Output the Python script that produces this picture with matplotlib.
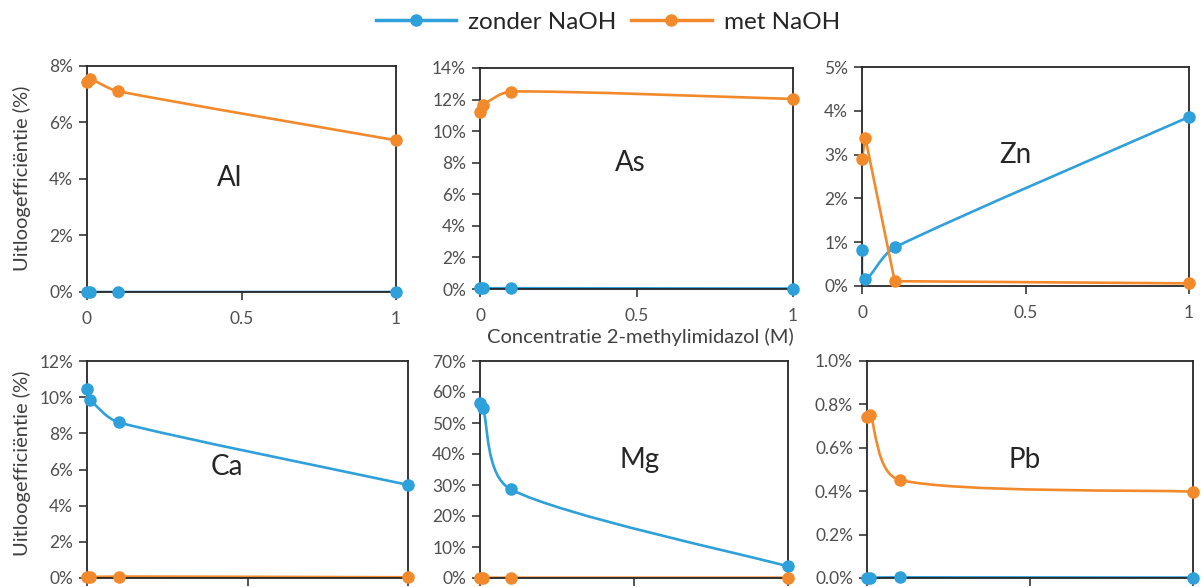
import numpy as np
import matplotlib
matplotlib.use("Agg")
import matplotlib.pyplot as plt
from matplotlib.path import Path
from matplotlib.patches import PathPatch
from matplotlib.lines import Line2D
from matplotlib.ticker import FuncFormatter, MultipleLocator

plt.rcParams["font.family"] = ["Lato", "DejaVu Sans"]

# Concentration of 2-methylimidazole (M)
conc = [0, 0.01, 0.1, 1]

# Leaching efficiency (%) per element, without / with NaOH
al_zonder = [0.0, 0.0, 0.0, 0.0]
al_met = [7.43, 7.55, 7.11, 5.37]
as_zonder = [0.05, 0.05, 0.05, 0.03]
as_met = [11.23, 11.66, 12.51, 12.04]
zn_zonder = [0.82, 0.15, 0.88, 3.86]
zn_met = [2.91, 3.39, 0.11, 0.06]
ca_zonder = [10.44, 9.87, 8.60, 5.15]
ca_met = [0.05, 0.05, 0.08, 0.04]
mg_zonder = [56.5, 54.7, 28.6, 3.75]
mg_met = [0.1, 0.1, 0.1, 0.1]
pb_zonder = [0.002, 0.002, 0.003, 0.002]
pb_met = [0.743, 0.753, 0.452, 0.398]

elements = ["Al", "As", "Zn", "Ca", "Mg", "Pb"]
y_max = [8, 14, 5, 12, 70, 1.0]
y_step = [2, 2, 1, 2, 10, 0.2]
y_decimals = [0, 0, 0, 0, 0, 1]
series_zonder = [al_zonder, as_zonder, zn_zonder, ca_zonder, mg_zonder, pb_zonder]
series_met = [al_met, as_met, zn_met, ca_met, mg_met, pb_met]
smooth_met = [True, True, False, True, True, True]

legend_labels = ["zonder NaOH", "met NaOH"]
x_label = "Concentratie 2-methylimidazol (M)"
y_label = "Uitloogefficiëntie (%)"

BLUE = "#2EA0DA"
ORANGE = "#F28A2C"
SPINE = "#262626"
TICKTXT = "#4F4F4F"

W, H = 1201, 587
fig = plt.figure(figsize=(W / 100, H / 100), dpi=100)


def box(left, right, top, bottom):
    return [left / W, 1 - bottom / H, (right - left) / W, (bottom - top) / H]


axes_boxes = [
    box(87, 396, 66, 292),
    box(480, 793, 68, 289),
    box(862, 1189, 67, 286),
    box(87, 408, 361, 578),
    box(480, 788, 361, 578),
    box(867, 1193, 361, 578),
]
label_pos = [(230, 178), (630, 163), (1015, 155), (227, 467), (640, 460), (1025, 460)]


def smooth_path(ax, xs, ys):
    """Bezier curve through the points, built in display space with
    tangent handles limited to a third of each segment."""
    pts = ax.transData.transform(np.column_stack([xs, ys]))
    n = len(pts)
    verts = [pts[0]]
    codes = [Path.MOVETO]
    for i in range(n - 1):
        p0 = pts[max(i - 1, 0)]
        p1 = pts[i]
        p2 = pts[i + 1]
        p3 = pts[min(i + 2, n - 1)]
        seg = np.hypot(*(p2 - p1))
        h1 = (p2 - p0) / 6.0
        h2 = (p3 - p1) / 6.0
        cap = seg / 3.0
        for h in (h1, h2):
            ln = np.hypot(*h)
            if ln > cap and ln > 0:
                h *= cap / ln
        verts += [p1 + h1, p2 - h2, p2]
        codes += [Path.CURVE4] * 3
    data_verts = ax.transData.inverted().transform(np.array(verts))
    return Path(data_verts, codes)


def draw_series(ax, xs, ys, color, smooth):
    if smooth:
        ax.add_patch(PathPatch(smooth_path(ax, xs, ys), facecolor="none",
                               edgecolor=color, lw=1.9, zorder=2,
                               capstyle="round", joinstyle="round"))
    else:
        ax.plot(xs, ys, color=color, lw=1.9, zorder=2,
                solid_joinstyle="round", solid_capstyle="round")
    ax.plot(xs, ys, "o", color=color, ms=8, zorder=3, clip_on=False)


for i, name in enumerate(elements):
    ax = fig.add_axes(axes_boxes[i])
    ax.set_xlim(0, 1)
    ax.set_ylim(0, y_max[i])
    ax.xaxis.set_major_locator(MultipleLocator(0.5))
    ax.yaxis.set_major_locator(MultipleLocator(y_step[i]))
    ax.xaxis.set_major_formatter(FuncFormatter(lambda v, p: f"{v:g}"))
    dec = y_decimals[i]
    ax.yaxis.set_major_formatter(FuncFormatter(lambda v, p, d=dec: f"{v:.{d}f}%"))
    ax.tick_params(direction="out", length=6, width=1.1, color=SPINE,
                   labelcolor=TICKTXT, labelsize=12.5, pad=4)
    ax.tick_params(axis="x", pad=8, labelbottom=(i < 3))
    for sp in ax.spines.values():
        sp.set_color(SPINE)
        sp.set_linewidth(1.3)
    draw_series(ax, conc, series_zonder[i], BLUE, True)
    draw_series(ax, conc, series_met[i], ORANGE, smooth_met[i])
    lx, ly = label_pos[i]
    fig.text(lx / W, 1 - ly / H, name, ha="center", va="center",
             fontsize=20, color="#262626")

fig.text(640 / W, 1 - 337 / H, x_label, ha="center", va="center",
         fontsize=14.5, color="#404040")
for cy in (178, 463):
    fig.text(22 / W, 1 - cy / H, y_label, ha="center", va="center",
             rotation=90, fontsize=14.5, color="#404040")

handles = [Line2D([], [], color=BLUE, lw=2.5, marker="o", ms=8),
           Line2D([], [], color=ORANGE, lw=2.5, marker="o", ms=8)]
fig.legend(handles, legend_labels, loc="center", bbox_to_anchor=(608 / W, 1 - 22 / H),
           ncol=2, frameon=False, fontsize=17.5, handlelength=3.3,
           columnspacing=0.6, handletextpad=0.5, labelcolor="#262626")

fig.savefig("out.png", dpi=100)
